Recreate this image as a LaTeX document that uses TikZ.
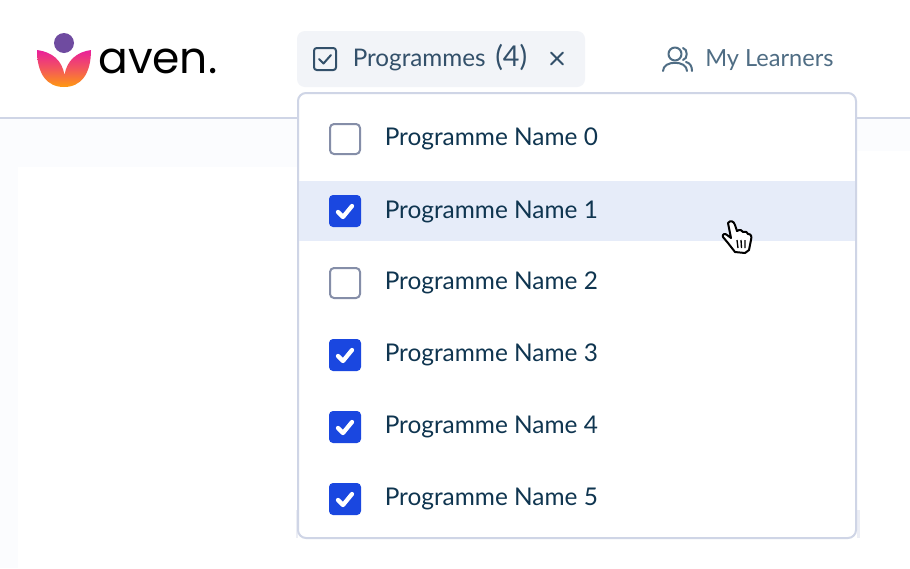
\documentclass[tikz,border=0pt]{standalone}
\usepackage{fontspec}
\setmainfont{Lato}
\newfontfamily\logofont{Poppins}
\definecolor{pagebg}{HTML}{FBFCFE}
\definecolor{rulec}{HTML}{CFD5E6}
\definecolor{chipc}{HTML}{F2F4F8}
\definecolor{hoverc}{HTML}{E6ECF9}
\definecolor{inkc}{HTML}{0F3550}
\definecolor{navc}{HTML}{4F6D84}
\definecolor{chipink}{HTML}{33506A}
\definecolor{bluec}{HTML}{1A47E0}
\definecolor{boxc}{HTML}{858EA8}
\definecolor{purplec}{HTML}{6F4BA0}
\definecolor{pinkc}{HTML}{E91E9B}
\definecolor{orangec}{HTML}{FF9A10}
\tikzset{
  x=0.75pt,y=-0.75pt,
  itemtext/.style={anchor=base west,inner sep=0pt,text=inkc,font=\fontsize{18.3}{22}\selectfont},
  navtext/.style={anchor=base west,inner sep=0pt,font=\fontsize{18.2}{22}\selectfont},
  emptybox/.style={draw=boxc,line width=1.5pt,fill=white,rounded corners=3pt},
  fullbox/.style={fill=bluec,rounded corners=3pt},
  tick/.style={draw=white,line width=3.2pt,line cap=round,line join=round},
  navicon/.style={line width=1.5pt,line cap=round,line join=round},
}
\newcommand{\emptyrow}[3]{%
  \draw[emptybox] (330,#1-15) rectangle (360,#1+15);
  \node[itemtext] (#3) at (384.5,#1+6) {Programme Name #2};}
\newcommand{\fullrow}[3]{%
  \fill[fullbox] (329,#1-16) rectangle (361,#1+16);
  \draw[tick] (338,#1+1) -- (343,#1+6) -- (352,#1-5);
  \node[itemtext] (#3) at (384.5,#1+6) {Programme Name #2};}
\begin{document}
\begin{tikzpicture}
\useasboundingbox (0,0) rectangle (910,568);
\fill[white] (0,0) rectangle (910,568);
% page background
\fill[pagebg] (0,119) rectangle (297,167);
\fill[pagebg] (0,167) rectangle (18,568);
\fill[pagebg] (857,119) rectangle (910,151);
\fill[rulec] (0,117) rectangle (298,119);
\fill[rulec] (857,117) rectangle (910,119);
\fill[rulec!40!white] (296,510) rectangle (298,538);
\fill[rulec!40!white] (857,510) rectangle (860,538);
% logo
\fill[purplec] (64,43) circle (10);
\shade[top color=pinkc,bottom color=orangec,middle color=orangec!45!pinkc]
  (37,50) .. controls (37,74) and (47,87) .. (64,87)
  .. controls (81,87) and (91,74) .. (91,50)
  .. controls (77,52) and (67,60) .. (64.5,75)
  .. controls (62,60) and (52,52) .. (37,50) -- cycle;
\node[anchor=base west,inner sep=0pt,text=black,font=\logofont\fontsize{33}{38}\selectfont] (logotext) at (98,73) {aven.};
% chip
\fill[chipc,rounded corners=6pt] (297,31) rectangle (585,87);
\draw[chipink,navicon,rounded corners=2pt] (314,48) rectangle (336,70);
\draw[chipink,navicon] (319,59) -- (323.5,63.5) -- (331,55);
\node[navtext,text=chipink] (chiptext) at (352.5,66) {Programmes};
\node[navtext,text=chipink,font=\fontsize{21.5}{24}\selectfont] (chipcount) at (495,66) {(4)};
\draw[chipink,navicon] (551,52.5) -- (563,64.5) (563,52.5) -- (551,64.5);
% My Learners
\draw[navc,navicon] (675,54) circle (6.5);
\draw[navc,navicon] (663,71) .. controls (663,60) and (687,60) .. (687,71);
\draw[navc,navicon] (683,48) .. controls (688,49) and (688,59) .. (683,60);
\draw[navc,navicon] (686,62) .. controls (690,63) and (692,66) .. (692,71);
\node[navtext,text=navc,font=\fontsize{17.7}{22}\selectfont] (learners) at (705,66) {My Learners};
% dropdown
\draw[draw=rulec,line width=1.5pt,fill=white,rounded corners=6pt] (298,93) rectangle (856,538);
\fill[hoverc] (299,181) rectangle (855,241);
\emptyrow{139}{0}{row0}
\fill[fullbox] (329,195) rectangle (361,227);
\draw[tick] (338,212) -- (343,217) -- (352,206);
\node[itemtext] (row1) at (384.5,218) {Programme Name 1};
\emptyrow{283}{2}{row2}
\fullrow{355}{3}{row3}
\fullrow{427}{4}{row4}
\fullrow{499}{5}{row5}
% hand cursor
\draw[black,fill=white,line width=1.5pt,line join=round]
  (728,223) .. controls (730,220) and (734,221) .. (735,225)
  -- (737,231) .. controls (740,229) and (742,230) .. (743,232)
  .. controls (746,231) and (747,232) .. (748,234)
  .. controls (751,234) and (752,236) .. (751,240)
  -- (749,250) -- (745,253) -- (735,252)
  -- (728,243) -- (723,237)
  .. controls (722,234) and (725,233) .. (727,235) -- (731,238) -- cycle;
\draw[black,line width=1pt] (737,240) -- (738,248) (741,240) -- (741.5,248) (745,240) -- (745,248);
\end{tikzpicture}
\end{document}
